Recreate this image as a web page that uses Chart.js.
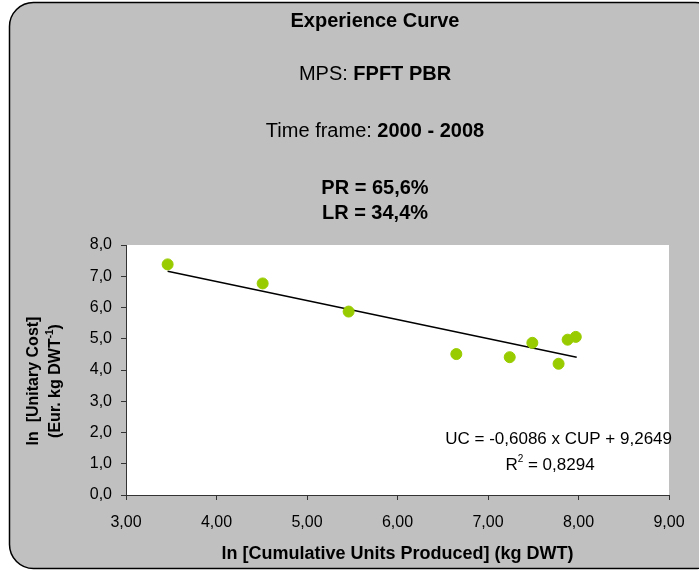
<!DOCTYPE html>
<html>
<head>
<meta charset="utf-8">
<script src="https://cdn.jsdelivr.net/npm/chart.js@4"></script>
<style>
  html, body { margin: 0; padding: 0; background: #fff; }
  #wrap { width: 699px; height: 570px; }
</style>
</head>
<body>
<div id="wrap"><canvas id="chart"></canvas></div>
<script>
// values: ln(cumulative units) vs ln(unitary cost)
const cupValues = [3.46, 4.51, 5.46, 6.65, 7.24, 7.49, 7.78, 7.88, 7.97];
const ucValues = [7.38, 6.77, 5.87, 4.51, 4.41, 4.87, 4.20, 4.97, 5.06];
// linear trend line endpoints
const trendX = [3.46, 7.98];
const trendY = [7.16, 4.41];

const xTicks = [3, 4, 5, 6, 7, 8, 9];
const yTicks = [0, 1, 2, 3, 4, 5, 6, 7, 8];

const FONT = "'Liberation Sans', Arial, sans-serif";

const points = cupValues.map((x, i) => ({ x: x, y: ucValues[i] }));
const trend = trendX.map((x, i) => ({ x: x, y: trendY[i] }));

// draw a line made of [text, bold] parts, centred on cx
function mixedLine(ctx, parts, cx, y, size) {
    let total = 0;
    parts.forEach(p => {
        ctx.font = (p[1] ? "bold " : "") + size + "px " + FONT;
        total += ctx.measureText(p[0]).width;
    });
    let x = cx - total / 2;
    ctx.textAlign = "left";
    parts.forEach(p => {
        ctx.font = (p[1] ? "bold " : "") + size + "px " + FONT;
        ctx.fillText(p[0], x, y);
        x += ctx.measureText(p[0]).width;
    });
}

const framePlugin = {
    id: "frame",
    beforeDraw(chart) {
        const ctx = chart.ctx;
        const area = chart.chartArea;
        ctx.save();
        ctx.fillStyle = "#fff";
        ctx.fillRect(0, 0, chart.width, chart.height);
        ctx.beginPath();
        ctx.roundRect(9.5, 2.5, 710, 566, 24);
        ctx.fillStyle = "#c0c0c0";
        ctx.fill();
        ctx.lineWidth = 1.5;
        ctx.strokeStyle = "#000";
        ctx.stroke();
        ctx.fillStyle = "#fff";
        ctx.fillRect(area.left, area.top, area.right - area.left, area.bottom - area.top);
        ctx.restore();
    },
    afterDraw(chart) {
        const ctx = chart.ctx;
        const area = chart.chartArea;
        ctx.save();
        ctx.fillStyle = "#000";
        ctx.textBaseline = "middle";
        const cx = 375;
        mixedLine(ctx, [["Experience Curve", true]], cx, 21, 20);
        mixedLine(ctx, [["MPS: ", false], ["FPFT PBR", true]], cx, 74, 20);
        mixedLine(ctx, [["Time frame: ", false], ["2000 - 2008", true]], cx, 131, 20);
        mixedLine(ctx, [["PR = 65,6%", true]], cx, 188, 20);
        mixedLine(ctx, [["LR = 34,4%", true]], cx, 213, 20);

        // x axis title
        mixedLine(ctx, [["ln [Cumulative Units Produced] (kg DWT)", true]], (area.left + area.right) / 2, 554, 18);

        // y axis title, two rotated lines
        const midY = 381;
        ctx.save();
        ctx.translate(34, midY);
        ctx.rotate(-Math.PI / 2);
        mixedLine(ctx, [["ln  [Unitary Cost]", true]], 0, 0, 16);
        ctx.restore();
        ctx.save();
        ctx.translate(56, midY);
        ctx.rotate(-Math.PI / 2);
        ctx.font = "bold 16px " + FONT;
        const a = "(Eur. kg DWT", b = "-1", c = ")";
        const wa = ctx.measureText(a).width, wc = ctx.measureText(c).width;
        ctx.font = "bold 10px " + FONT;
        const wb = ctx.measureText(b).width;
        let x = -(wa + wb + wc) / 2;
        ctx.textAlign = "left";
        ctx.font = "bold 16px " + FONT;
        ctx.fillText(a, x, 0);
        x += wa;
        ctx.font = "bold 10px " + FONT;
        ctx.fillText(b, x, -6);
        x += wb;
        ctx.font = "bold 16px " + FONT;
        ctx.fillText(c, x, 0);
        ctx.restore();

        // regression equation
        ctx.font = "17px " + FONT;
        ctx.textAlign = "right";
        ctx.fillText("UC = -0,6086 x CUP + 9,2649", 672, 439);
        const r1 = "R", r2 = "2", r3 = " = 0,8294";
        const w1 = ctx.measureText(r1).width, w3 = ctx.measureText(r3).width;
        ctx.font = "10px " + FONT;
        const w2 = ctx.measureText(r2).width;
        let rx = 550 - (w1 + w2 + w3) / 2;
        ctx.textAlign = "left";
        ctx.font = "17px " + FONT;
        ctx.fillText(r1, rx, 465);
        rx += w1;
        ctx.font = "10px " + FONT;
        ctx.fillText(r2, rx, 459);
        rx += w2;
        ctx.font = "17px " + FONT;
        ctx.fillText(r3, rx, 465);
        ctx.restore();
    }
};

new Chart(document.getElementById("chart"), {
    type: "scatter",
    data: {
        datasets: [
            {
                label: "UC",
                data: points,
                backgroundColor: "#99cc00",
                borderColor: "#99cc00",
                pointRadius: 5.5,
                pointHoverRadius: 5.5
            },
            {
                label: "Trend",
                type: "line",
                data: trend,
                borderColor: "#000",
                borderWidth: 1.5,
                pointRadius: 0,
                fill: false
            }
        ]
    },
    options: {
        responsive: true,
        maintainAspectRatio: false,
        animation: false,
        layout: { padding: { top: 245, right: 30, left: 0, bottom: 0 } },
        plugins: { legend: { display: false }, tooltip: { enabled: false } },
        scales: {
            x: {
                type: "linear",
                min: 3,
                max: 9,
                afterFit: s => { s.height = 75; },
                afterBuildTicks: s => { s.ticks = xTicks.map(v => ({ value: v })); },
                grid: { drawOnChartArea: false, color: "#333", tickLength: 5 },
                border: { color: "#333" },
                ticks: {
                    color: "#000",
                    padding: 13,
                    maxRotation: 0,
                    font: { family: FONT, size: 16 },
                    callback: v => v.toFixed(2).replace(".", ",")
                }
            },
            y: {
                min: 0,
                max: 8,
                afterFit: s => { s.width = 126; },
                afterBuildTicks: s => { s.ticks = yTicks.map(v => ({ value: v })); },
                grid: { drawOnChartArea: false, color: "#333", tickLength: 5 },
                border: { color: "#333" },
                ticks: {
                    color: "#000",
                    padding: 9,
                    font: { family: FONT, size: 16 },
                    callback: v => v.toFixed(1).replace(".", ",")
                }
            }
        }
    },
    plugins: [framePlugin]
});
</script>
</body>
</html>
